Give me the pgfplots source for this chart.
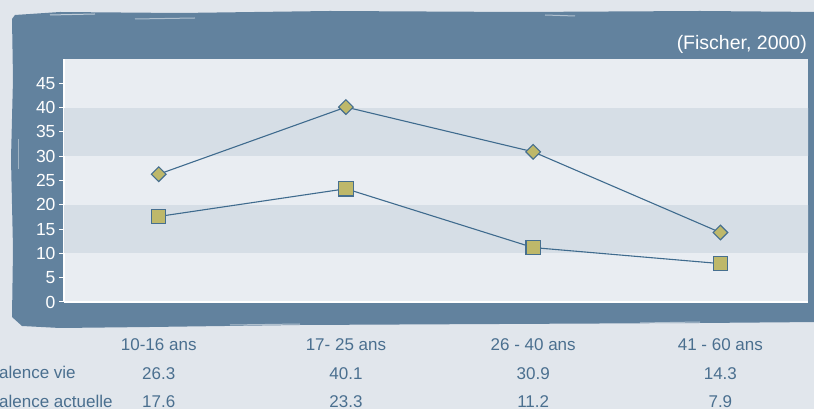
\documentclass[border=0pt]{standalone}
\usepackage{pgfplots}
\pgfplotsset{compat=1.18}
\usepackage{fontspec}
\setmainfont{Liberation Sans}
\definecolor{bg}{HTML}{E1E6EC}
\definecolor{frame}{HTML}{62829E}
\definecolor{bandL}{HTML}{E9EDF2}
\definecolor{bandD}{HTML}{D6DEE6}
\definecolor{serline}{HTML}{3F6B8E}
\definecolor{mfill}{HTML}{BEB86A}
\definecolor{mdraw}{HTML}{466F8F}
\definecolor{txt}{HTML}{4A6F8F}
\begin{document}
\begin{tikzpicture}[x=1pt,y=1pt]
\useasboundingbox (0,0) rectangle (814,409);
\fill[bg] (0,0) rectangle (814,409);
\fill[frame] (12,390) -- (15,394) -- (60,397) -- (180,396) -- (330,398) -- (520,397) -- (700,398) -- (820,397)
  -- (820,87) -- (700,86) -- (500,85) -- (300,84) -- (150,82) -- (60,81) -- (22,83) -- (12,92)
  -- (13,160) -- (11,250) -- (13,330) -- cycle;
\draw[white, opacity=0.6, line width=1pt] (50,394) -- (95,395);
\draw[white, opacity=0.5, line width=1pt] (135,390) -- (195,391);
\draw[white, opacity=0.5, line width=1pt] (545,394) -- (575,393);
\draw[white, opacity=0.5, line width=1pt] (230,84) -- (300,85);
\draw[white, opacity=0.5, line width=1pt] (640,86) -- (700,87);
\draw[white, opacity=0.4, line width=0.8pt] (18,240) -- (18,270);
\begin{axis}[
  at={(64pt,107pt)}, anchor=south west, scale only axis,
  width=744pt, height=243pt,
  xmin=-0.506, xmax=3.468, ymin=0, ymax=50,
  ytick={0,5,...,45},
  xtick={0,1,2,3},
  xticklabels={{10-16 ans\\26.3\\17.6},{17- 25 ans\\40.1\\23.3},{26 - 40 ans\\30.9\\11.2},{41 - 60 ans\\14.3\\7.9}},
  xticklabel style={align=center, text=txt, font=\fontsize{17}{28.5}\selectfont, anchor=base, inner sep=0pt, yshift=-101pt},
  major x tick style={draw=none},
  yticklabel style={text=white, font=\fontsize{17.5}{20}\selectfont},
  /pgf/number format/assume math mode=true,
  tick align=outside, major tick length=5pt,
  major y tick style={white, line width=1pt},
  axis x line*=bottom, axis y line*=left,
  axis line style={white, line width=1.5pt, -},
  axis background/.style={fill=bandL},
  clip=true,
]
\fill[bandD] (axis cs:-1,10) rectangle (axis cs:4,20);
\fill[bandD] (axis cs:-1,30) rectangle (axis cs:4,40);
\addplot[serline, line width=1.1pt, mark=square*, mark size=5.2pt,
  mark options={rotate=45, fill=mfill, draw=mdraw, line width=1.1pt}]
  coordinates {(0,26.3) (1,40.1) (2,30.9) (3,14.3)};
\addplot[serline, line width=1.1pt, mark=square*, mark size=7.2pt,
  mark options={fill=mfill, draw=mdraw, line width=1.1pt}]
  coordinates {(0,17.6) (1,23.3) (2,11.2) (3,7.9)};
\end{axis}
\node[anchor=base east, text=white, inner sep=0pt, font=\fontsize{19.5}{23}\selectfont] at (807,359.7) {(Fischer, 2000)};
\node[anchor=base west, text=txt, inner sep=0pt, font=\fontsize{17}{20}\selectfont] at (-36,30) {Prévalence vie};
\node[anchor=base west, text=txt, inner sep=0pt, font=\fontsize{17}{20}\selectfont] at (-36,1) {Prévalence actuelle};
\end{tikzpicture}
\end{document}
